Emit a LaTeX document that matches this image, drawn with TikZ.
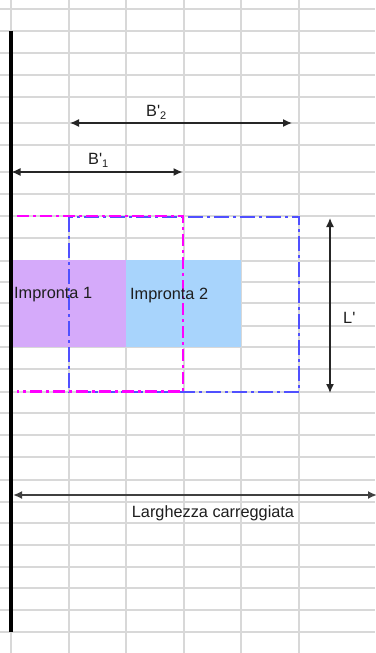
\documentclass[tikz,border=0pt]{standalone}
\usepackage{fontspec}
\setmainfont{Liberation Sans}
\usetikzlibrary{arrows.meta}
\definecolor{gridc}{RGB}{216,216,216}
\definecolor{imp1}{RGB}{213,170,250}
\definecolor{imp2}{RGB}{168,212,252}
\definecolor{magc}{RGB}{255,0,255}
\definecolor{bluec}{RGB}{80,80,255}
\definecolor{txt}{RGB}{30,30,30}
\tikzset{
  gridline/.style={draw=gridc, line width=1.1pt},
  fillbox/.style={draw=none, inner sep=0pt, outer sep=0pt},
  lbl/.style={text=txt, inner sep=0pt, font=\fontsize{16.3}{16}\selectfont},
  dimarrow/.style={draw=black!85, line width=1.4pt, {Latex[length=9pt,width=8pt]}-{Latex[length=9pt,width=8pt]}},
  magline/.style={draw=magc, line width=2.6pt, dash pattern=on 12pt off 4pt on 3pt off 4pt},
  blueline/.style={draw=bluec, line width=1.6pt, dash pattern=on 15pt off 4pt on 3pt off 4pt},
}
\newcommand{\apo}{\textquotesingle}
\begin{document}
\begin{tikzpicture}[x=1pt,y=-1pt]
\useasboundingbox (0,0) rectangle (375,653);
\fill[white] (0,0) rectangle (375,653);
% grid
\foreach \gx in {11,69,126,184,241,299}{\draw[gridline] (\gx,0) -- (\gx,653);}
\foreach \gy in {9,31,53,75,97,123,145,172,194,216,238,261,282,303,326,347,369,392,413,435,457,480,502,523,545,567,588,610,632}{\draw[gridline] (0,\gy) -- (375,\gy);}
% fills
\node[fillbox, fill=imp1, minimum width=113pt, minimum height=87pt, anchor=north west] (imp1) at (13,260) {};
\node[fillbox, fill=imp2, minimum width=115pt, minimum height=87pt, anchor=north west] (imp2) at (126,260) {};
% footprint spread outlines
\draw[blueline] (69,217) rectangle (299,392);
\draw[magline] (17,216) -- (183,216) -- (183,391.5) -- (17,391.5);
% kerb
\coordinate (k1) at (11,31);
\coordinate (k2) at (11,632);
\draw[black, line width=3.5pt] (k1) -- (k2);
% dimension arrows
\coordinate (b1a) at (11.5,172); \coordinate (b1b) at (182.5,172);
\coordinate (b2a) at (70,123);   \coordinate (b2b) at (292,123);
\coordinate (la) at (330,218);   \coordinate (lb) at (330,393);
\coordinate (wa) at (13,495);    \coordinate (wb) at (377,495);
\draw[dimarrow] (b1a) -- (b1b);
\draw[dimarrow] (b2a) -- (b2b);
\draw[dimarrow] (la) -- (lb);
\draw[dimarrow, draw=black!75, line width=1.8pt] (wa) -- (wb);
% labels
\node[lbl, anchor=west] (t1) at (14,295) {Impronta 1};
\node[lbl, anchor=west] (t2) at (130,295) {Impronta 2};
\node[lbl, anchor=base west] (b1) at (88,164) {B\apo\raisebox{-3pt}{\fontsize{11}{11}\selectfont 1}};
\node[lbl, anchor=base west] (b2) at (146,116) {B\apo\raisebox{-3pt}{\fontsize{11}{11}\selectfont 2}};
\node[lbl, anchor=base west] (lp) at (343,323) {L\apo};
\node[lbl] (wl) at (213,513) {Larghezza carreggiata};
\end{tikzpicture}
\end{document}
